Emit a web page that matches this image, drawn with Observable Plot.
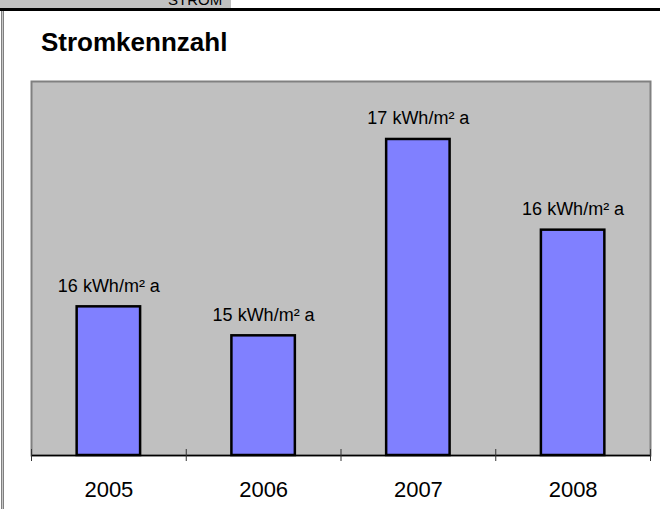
<!DOCTYPE html>
<html>
<head>
<meta charset="utf-8">
<script src="https://cdn.jsdelivr.net/npm/d3@7"></script>
<script src="https://cdn.jsdelivr.net/npm/@observablehq/plot@0.6"></script>
<style>
  html, body { margin: 0; padding: 0; background: #fff; }
  body { width: 660px; height: 509px; position: relative; overflow: hidden; font-family: "Liberation Sans", Arial, sans-serif; }
  #strip { position: absolute; left: 0; top: 0; width: 231px; height: 8px; background: #c0c0c0; overflow: hidden; }
  #strip span { position: absolute; left: 168px; top: -9px; font-size: 15px; color: #000; }
  #topline { position: absolute; left: 0; top: 8px; width: 660px; height: 3px; background: #000; }
  #leftline { position: absolute; left: 1px; top: 11px; width: 1px; height: 498px; border-left: 1px solid #808080; border-right: 1px solid #808080; background: #c8c8c8; }
  #title { position: absolute; left: 41px; top: 27px; font-size: 26px; font-weight: bold; color: #000; margin: 0; line-height: 30px; }
  #chart { position: absolute; left: 0; top: 60px; }
</style>
</head>
<body>
<div id="strip"><span>STROM</span></div>
<div id="topline"></div>
<div id="leftline"></div>
<div id="title">Stromkennzahl</div>
<div id="chart"></div>
<script>
const years = [2005, 2006, 2007, 2008];
const values = [15.59, 15.28, 17.38, 16.41];
const labels = ["16 kWh/m² a", "15 kWh/m² a", "17 kWh/m² a", "16 kWh/m² a"];
const boundaries = [2004.5, 2005.5, 2006.5, 2007.5, 2008.5];
const yDomain = [14, 18];

const data = years.map((y, i) => ({year: y, value: values[i], label: labels[i]}));
const half = 0.205;

const chart = Plot.plot({
  width: 660,
  height: 449,
  marginLeft: 31,
  marginRight: 10,
  marginTop: 21,
  marginBottom: 54,
  style: {fontFamily: "Liberation Sans, Arial, sans-serif", background: "transparent"},
  x: {domain: [2004.5, 2008.5], axis: null},
  y: {domain: yDomain, axis: null},
  marks: [
    Plot.frame({fill: "#c0c0c0", stroke: "#808080", strokeWidth: 2}),
    Plot.rectY(data, {x1: d => d.year - half, x2: d => d.year + half, y1: yDomain[0], y2: "value", fill: "#8080ff", stroke: "#000", strokeWidth: 2.5}),
    Plot.ruleY([yDomain[0]], {stroke: "#000", strokeWidth: 1.5}),
    Plot.ruleX(boundaries, {x: d => d, stroke: "#333", strokeWidth: 1, insetTop: 368, insetBottom: -6}),
    Plot.text(data, {x: "year", y: "value", text: "label", fontSize: 18, fill: "#000", lineAnchor: "bottom", dy: -15}),
    Plot.text(years, {x: d => d, frameAnchor: "bottom", text: d => String(d), fontSize: 22, fill: "#000", lineAnchor: "top", dy: 26})
  ]
});
document.getElementById("chart").appendChild(chart);
</script>
</body>
</html>
